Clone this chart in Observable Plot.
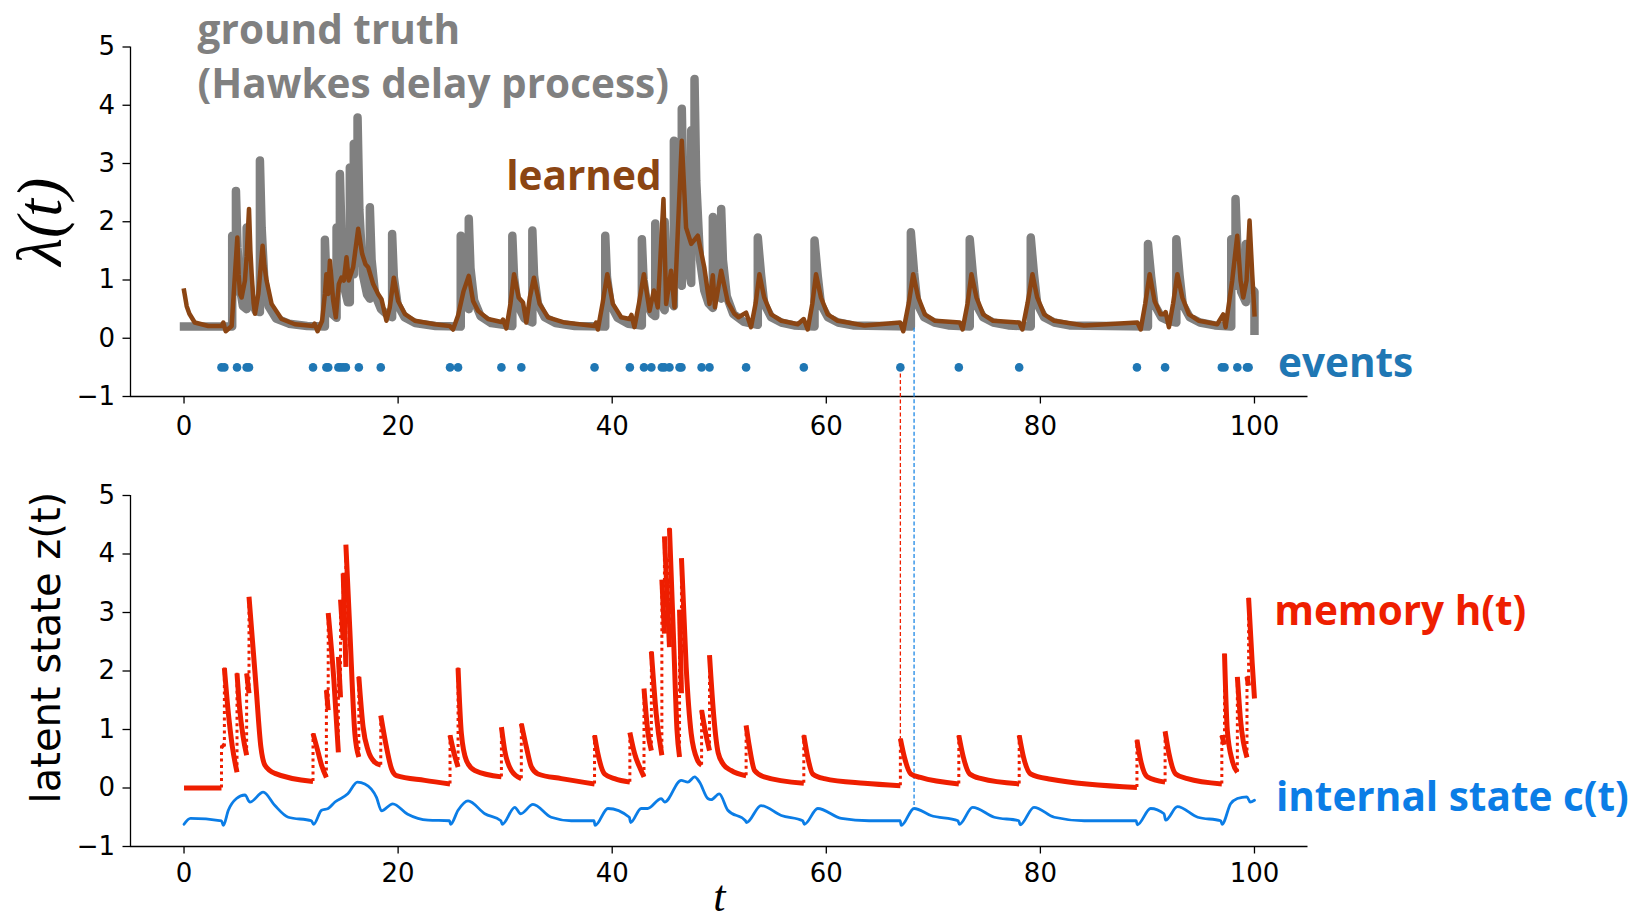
<!DOCTYPE html>
<html><head><meta charset="utf-8">
<script src="https://cdn.jsdelivr.net/npm/d3@7"></script>
<script src="https://cdn.jsdelivr.net/npm/@observablehq/plot@0.6"></script>
<style>
body{margin:0;background:#fff;}
#chart{width:1631px;height:922px;}
#chart svg{display:block;overflow:visible;}
</style></head><body><div id="chart"></div>
<script>
// ---------- data ----------
const xDomain = [-5, 105];
const yDomain = [-1, 5];
const xTicks = [0, 20, 40, 60, 80, 100];
const yTicks = [-1, 0, 1, 2, 3, 4, 5];

const events = [3.5, 3.77, 4.95, 5.85, 6.07, 12.05, 13.3, 13.47, 14.42, 14.62, 14.87, 15.12, 16.33, 18.38, 24.85, 25.6, 29.65, 31.51, 38.35, 41.65, 42.97, 43.66, 44.64, 44.88, 45.35, 46.29, 46.47, 48.35, 49.09, 52.51, 57.9, 66.92, 72.38, 78.02, 89.02, 91.65, 96.95, 97.2, 98.4, 99.3, 99.45];
const eventRowY = [-0.5];

const groundTruth = [[0,0.2],[4.5,0.2],[4.5,1.76],[4.62,1.1],[4.85,0.8],[4.85,2.53],[5.0,1.55],[5.2,0.9],[5.5,0.55],[5.85,0.5],[5.85,1.9],[6.0,1.15],[6.3,0.65],[6.7,0.47],[7.09,0.45],[7.09,3.05],[7.25,1.9],[7.5,1.0],[7.9,0.55],[8.6,0.34],[9.8,0.25],[11.5,0.21],[13.16,0.2],[13.16,1.69],[13.3,1.0],[13.63,0.45],[14.25,0.35],[14.25,1.9],[14.4,1.2],[14.56,0.9],[14.56,2.82],[14.75,1.5],[15.0,0.85],[15.3,0.62],[15.49,0.62],[15.49,2.93],[15.62,1.8],[15.86,1.1],[15.86,3.34],[16.0,2.1],[16.21,1.3],[16.21,3.79],[16.38,2.2],[16.7,1.1],[17.1,0.75],[17.36,0.68],[17.36,2.25],[17.52,1.35],[17.85,0.75],[18.4,0.5],[19.0,0.4],[19.44,0.36],[19.44,1.79],[19.6,1.05],[19.95,0.58],[20.6,0.36],[21.6,0.26],[23.5,0.21],[25.85,0.2],[25.85,1.76],[26.0,1.05],[26.3,0.62],[26.6,0.5],[26.6,2.05],[26.76,1.2],[27.1,0.65],[27.7,0.38],[28.7,0.26],[30.67,0.21],[30.67,1.76],[30.83,1.05],[31.15,0.58],[31.8,0.34],[32.54,0.27],[32.54,1.85],[32.7,1.08],[33.05,0.6],[33.7,0.36],[34.7,0.26],[36.5,0.21],[39.35,0.2],[39.35,1.76],[39.51,1.05],[39.85,0.58],[40.5,0.35],[41.5,0.25],[42.77,0.22],[42.77,1.7],[42.93,1.0],[43.25,0.58],[43.7,0.42],[44.02,0.38],[44.02,1.97],[44.18,1.15],[44.5,0.62],[44.9,0.48],[44.9,2.0],[45.06,1.2],[45.4,0.65],[45.76,0.55],[45.76,3.39],[45.92,2.0],[46.2,1.15],[46.5,0.9],[46.5,3.94],[46.66,2.4],[47.0,1.3],[47.38,0.95],[47.38,3.57],[47.5,2.5],[47.69,1.9],[47.69,4.45],[47.85,2.7],[48.2,1.35],[48.6,0.82],[49.0,0.6],[49.4,0.52],[49.4,2.08],[49.56,1.3],[49.85,0.82],[50.18,0.68],[50.18,2.22],[50.34,1.35],[50.7,0.72],[51.3,0.42],[52.3,0.28],[53.6,0.23],[53.6,1.73],[53.9,1.1],[54.2,0.59],[54.85,0.36],[55.8,0.27],[57,0.22],[58.9,0.2],[58.9,1.68],[59.2,1.07],[59.5,0.58],[60.15,0.36],[61.1,0.27],[62.5,0.22],[67.9,0.2],[67.9,1.82],[68.2,1.13],[68.5,0.6],[69.15,0.36],[70.1,0.27],[71.4,0.22],[73.4,0.2],[73.4,1.7],[73.7,1.08],[74.0,0.58],[74.65,0.36],[75.6,0.27],[77,0.22],[79.1,0.2],[79.1,1.73],[79.4,1.1],[79.7,0.59],[80.35,0.36],[81.3,0.27],[82.7,0.22],[90.05,0.2],[90.05,1.62],[90.35,1.05],[90.65,0.58],[91.3,0.36],[92.0,0.3],[92.7,0.27],[92.7,1.7],[93.0,1.08],[93.3,0.58],[93.95,0.36],[94.9,0.27],[96.3,0.22],[97.83,0.2],[97.83,1.7],[98.0,1.2],[98.23,0.9],[98.23,2.39],[98.42,1.45],[98.75,0.8],[99.2,0.62],[99.2,1.62],[99.4,1.1],[99.7,0.85],[100,0.8],[100,0.13]];

const learned = [[0,0.82],[0.25,0.55],[0.5,0.42],[1.0,0.27],[2.27,0.21],[3.5,0.21],[3.67,0.27],[3.89,0.12],[4.45,0.21],[4.76,1.1],[4.98,1.73],[5.1,1.1],[5.23,0.76],[5.38,0.7],[5.69,0.99],[5.85,1.4],[6.07,2.22],[6.2,1.5],[6.32,1.1],[6.5,0.6],[6.63,0.42],[6.94,0.76],[7.34,1.59],[7.5,1.25],[7.71,0.99],[8.18,0.59],[9.11,0.33],[10.36,0.24],[12.07,0.21],[12.2,0.25],[12.47,0.12],[12.9,0.3],[13.16,0.76],[13.3,1.1],[13.47,0.76],[13.63,1.33],[13.94,0.64],[14.18,0.36],[14.46,0.93],[14.71,1.04],[14.93,0.99],[15.18,1.39],[15.39,0.99],[15.8,1.22],[16.27,1.88],[16.64,1.45],[16.95,1.27],[17.2,1.22],[17.67,0.93],[18.13,0.76],[18.45,0.67],[18.91,0.3],[19.22,0.53],[19.6,1.04],[20.0,0.64],[20.62,0.42],[21.56,0.3],[23.42,0.24],[24.82,0.21],[25.13,0.15],[25.6,0.39],[26.1,0.8],[26.6,1.07],[27.0,0.64],[27.47,0.47],[28.4,0.33],[29.65,0.28],[29.8,0.32],[30.11,0.17],[30.5,0.6],[30.83,1.1],[31.26,0.7],[31.5,0.65],[31.67,0.61],[31.98,0.27],[32.3,0.7],[32.69,1.04],[33.22,0.59],[34.0,0.36],[35.55,0.27],[38.35,0.21],[38.5,0.27],[38.66,0.15],[39.1,0.6],[39.54,1.1],[40.06,0.59],[40.84,0.36],[41.62,0.33],[41.8,0.4],[42.08,0.19],[42.5,0.6],[42.96,1.1],[43.49,0.47],[43.89,0.82],[44.26,0.53],[44.79,2.39],[45.04,0.59],[45.5,1.16],[45.82,0.53],[46.5,3.39],[46.9,1.9],[47.38,1.62],[48.0,1.76],[48.6,1.22],[49.09,0.59],[49.4,1.08],[49.6,0.53],[50.18,1.16],[50.8,0.62],[51.42,0.42],[51.8,0.36],[52.51,0.44],[52.97,0.19],[53.4,0.6],[53.75,1.1],[54.2,0.7],[54.85,0.41],[55.8,0.3],[57.33,0.24],[57.89,0.33],[58.26,0.15],[58.7,0.6],[59.04,1.1],[59.5,0.7],[60.13,0.41],[61.06,0.3],[63.55,0.22],[66.91,0.27],[67.19,0.12],[67.7,0.6],[68.12,1.1],[68.59,0.7],[69.21,0.41],[70.15,0.3],[72.48,0.27],[72.73,0.15],[73.2,0.6],[73.56,1.1],[74.03,0.7],[74.65,0.41],[75.58,0.3],[78.02,0.27],[78.32,0.15],[78.8,0.6],[79.26,1.1],[79.7,0.7],[80.35,0.41],[81.28,0.3],[84.08,0.22],[89.06,0.27],[89.37,0.15],[89.8,0.6],[90.21,1.1],[90.67,0.64],[91.23,0.41],[91.55,0.41],[91.7,0.45],[92.01,0.19],[92.4,0.6],[92.8,1.1],[93.26,0.7],[93.88,0.41],[94.81,0.3],[96.52,0.24],[97.08,0.41],[97.3,0.19],[97.92,0.99],[98.39,1.76],[98.7,0.99],[98.95,0.7],[99.26,0.99],[99.54,2.02],[99.79,1.1],[100,0.41]];

const memorySegments = [
 [[0,0],[3.5,0]],
 [[3.5,0.74],[3.77,0.7]],
 [[3.77,2.05],[4.14,1.28],[4.51,0.71],[4.95,0.27]],
 [[4.95,1.96],[5.2,1.35],[5.5,0.9],[5.85,0.56]],
 [[5.85,1.96],[6.07,1.62]],
 [[6.07,3.27],[6.69,1.83],[7.18,0.7],[7.56,0.39],[8.49,0.25],[12.05,0.11]],
 [[12.05,0.93],[12.4,0.7],[12.85,0.39],[13.3,0.18]],
 [[13.3,1.67],[13.47,1.33]],
 [[13.47,2.99],[14.0,1.84],[14.42,0.61]],
 [[14.42,2.24],[14.62,1.55]],
 [[14.62,3.22],[14.87,2.53]],
 [[14.87,3.67],[15.12,2.07]],
 [[15.12,4.16],[15.49,2.7],[15.96,0.93],[16.33,0.53]],
 [[16.33,1.9],[16.73,1.04],[17.2,0.64],[17.82,0.44],[18.38,0.39]],
 [[18.38,1.24],[18.91,0.7],[19.38,0.33],[19.85,0.21],[22.49,0.13],[24.85,0.07]],
 [[24.85,0.9],[25.23,0.59],[25.6,0.36]],
 [[25.6,2.05],[25.91,0.93],[26.38,0.47],[27.16,0.3],[29.65,0.19]],
 [[29.65,1.04],[29.96,0.64],[30.58,0.3],[31.51,0.16]],
 [[31.51,1.1],[31.98,0.7],[32.45,0.36],[33.07,0.24],[35.25,0.16],[38.35,0.07]],
 [[38.35,0.9],[38.66,0.59],[39.29,0.24],[40.22,0.16],[41.65,0.1]],
 [[41.65,0.95],[42.09,0.59],[42.7,0.3],[42.97,0.19]],
 [[42.97,1.7],[43.33,0.96],[43.66,0.64]],
 [[43.66,2.33],[44.11,1.27],[44.64,0.56]],
 [[44.64,3.56],[44.88,2.64]],
 [[44.88,4.3],[45.35,2.41]],
 [[45.35,4.44],[45.76,2.41],[46.05,1.0],[46.29,0.53]],
 [[46.29,3.05],[46.47,1.62]],
 [[46.47,3.93],[46.91,2.07],[47.38,0.93],[47.98,0.47],[48.35,0.39]],
 [[48.35,1.33],[48.77,0.9],[49.09,0.64]],
 [[49.09,2.27],[49.5,1.2],[49.9,0.6],[50.4,0.4],[51.1,0.3],[52.51,0.21]],
 [[52.51,1.07],[52.82,0.7],[53.3,0.3],[54.2,0.19],[57.9,0.08]],
 [[57.9,0.9],[58.26,0.53],[58.73,0.24],[59.82,0.16],[63.55,0.08],[66.92,0.04]],
 [[66.92,0.84],[67.29,0.53],[67.9,0.24],[68.8,0.18],[72.38,0.07]],
 [[72.38,0.9],[72.8,0.53],[73.4,0.24],[74.5,0.16],[78.02,0.07]],
 [[78.02,0.9],[78.42,0.53],[79.1,0.24],[80.97,0.15],[89.02,0.01]],
 [[89.02,0.82],[89.37,0.47],[89.99,0.19],[91.65,0.1]],
 [[91.65,0.97],[92.01,0.59],[92.64,0.24],[93.73,0.16],[96.95,0.07]],
 [[96.95,0.9],[97.2,0.74]],
 [[97.2,2.3],[97.46,0.99],[97.92,0.47],[98.4,0.27]],
 [[98.4,1.9],[98.7,1.16],[99.3,0.52]],
 [[99.3,1.9],[99.45,1.75]],
 [[99.45,3.25],[99.79,2.13],[100,1.53]]
];

const internalState = [[0,-0.62],[0.6,-0.52],[3.5,-0.56],[3.67,-0.64],[4.14,-0.38],[4.9,-0.18],[5.69,-0.12],[6.16,-0.24],[7.4,-0.07],[8.49,-0.3],[9.74,-0.5],[11.9,-0.56],[12.1,-0.62],[12.85,-0.38],[13.47,-0.35],[14.1,-0.24],[15.3,-0.1],[16.2,0.1],[16.89,0.07],[17.98,-0.16],[18.45,-0.39],[19.5,-0.27],[20.9,-0.45],[22.8,-0.55],[24.8,-0.56],[24.9,-0.62],[25.6,-0.38],[26.53,-0.22],[28.1,-0.44],[29.6,-0.56],[29.72,-0.62],[30.9,-0.33],[31.45,-0.44],[32.6,-0.28],[34.3,-0.5],[36.17,-0.56],[38.3,-0.56],[38.4,-0.64],[39.6,-0.35],[41.6,-0.5],[41.72,-0.59],[42.7,-0.35],[43.3,-0.35],[44.58,-0.18],[44.9,-0.24],[46.44,0.13],[47.07,0.1],[47.7,0.19],[48.16,0.1],[48.93,-0.18],[49.25,-0.2],[50.0,-0.1],[50.8,-0.38],[52.45,-0.56],[52.55,-0.59],[53.9,-0.3],[55.8,-0.47],[57.8,-0.56],[57.95,-0.62],[59.2,-0.35],[61.4,-0.52],[64,-0.56],[66.9,-0.56],[67.0,-0.64],[68.2,-0.35],[69.77,-0.47],[72.3,-0.56],[72.42,-0.62],[73.67,-0.33],[75.7,-0.5],[78.0,-0.56],[78.1,-0.63],[79.4,-0.33],[81.3,-0.5],[84.1,-0.56],[88.95,-0.56],[89.05,-0.63],[90.3,-0.35],[91.55,-0.44],[91.7,-0.55],[92.8,-0.32],[94.7,-0.5],[96.85,-0.56],[96.97,-0.62],[97.77,-0.27],[98.4,-0.18],[99.3,-0.15],[99.6,-0.24],[100,-0.21]];

// the two highlighted instants (event time, query time) and the values where their guides end
const guideTimes = [66.92, 68.2];
const guideTopEnds = [-0.5, 0.17];
const guideBottomEnds = [0.84, -0.3];

// ---------- styling / layout ----------
const COL = {gray: "#808080", brown: "#8B4513", events: "#1f77b4", red: "#ee1e00", blue: "#0b7de6", blueGuide: "#1e88e5"};
const W = 1631;
const LEFT = 130, RIGHT = 323.5;
const P1 = {height: 450, top: 46.5, bottom: 54, pad: 13};
const P2 = {height: 472, top: 45, bottom: 76, pad: 10};
const unitOf = p => (p.height - p.top - p.bottom) / (yDomain[1] - yDomain[0]);
const below = p => yDomain[0] - p.bottom / unitOf(p);
const above = p => yDomain[1] + p.top / unitOf(p);
const ANN = {fontFamily: "Open Sans", fontWeight: 700, fontSize: 40.5, textAnchor: "start", lineAnchor: "middle"};
const fmt = d => (d < 0 ? "\u2212" : "") + Math.abs(d);

function axes(p) {
  return [
    Plot.ruleX([xDomain[0]], {strokeWidth: 1.3}),
    Plot.ruleY([yDomain[0]], {strokeWidth: 1.3}),
    Plot.axisX(xTicks, {anchor: "bottom", tickSize: 7.5, tickPadding: p.pad, strokeWidth: 1.3, fontSize: 26, tickFormat: fmt, label: null}),
    Plot.axisY(yTicks, {anchor: "left", tickSize: 7.5, tickPadding: 8, strokeWidth: 1.3, fontSize: 26, tickFormat: fmt, label: null})
  ];
}
const common = p => ({
  width: W, height: p.height, marginLeft: LEFT, marginRight: RIGHT, marginTop: p.top, marginBottom: p.bottom,
  x: {domain: xDomain}, y: {domain: yDomain},
  style: {fontFamily: "DejaVu Sans", fontSize: "26px", color: "black", background: "white", overflow: "visible"}
});

const guides = guideTimes.map((t, i) => ({t, top: guideTopEnds[i], bottom: guideBottomEnds[i], color: i === 0 ? COL.red : COL.blueGuide}));

// ---------- top panel ----------
const plotTop = Plot.plot({
  ...common(P1),
  marks: [
    ...axes(P1),
    Plot.line(groundTruth, {x: d => d[0], y: d => d[1], stroke: COL.gray, strokeWidth: 8.5, strokeLinejoin: "round", strokeLinecap: "square"}),
    Plot.line(learned, {x: d => d[0], y: d => d[1], stroke: COL.brown, strokeWidth: 4.5, strokeLinejoin: "round", strokeLinecap: "square"}),
    Plot.ruleX(guides, {x: "t", y1: "top", y2: () => below(P1), stroke: "color", strokeWidth: 1.3, strokeDasharray: "4,2.5"}),
    Plot.dot(events, {x: d => d, y: eventRowY[0], r: 4.3, fill: COL.events, stroke: null}),
    Plot.text(["λ(t)"], {x: xDomain[0], y: (yDomain[0] + yDomain[1]) / 2, dx: -90, rotate: -90, fontSize: 64, fontFamily: "Liberation Serif", fontStyle: "italic", textAnchor: "middle", lineAnchor: "middle"}),
    Plot.text(["ground truth"], {...ANN, x: 1.27, y: 5.27, fill: COL.gray}),
    Plot.text(["(Hawkes delay process)"], {...ANN, x: 1.27, y: 4.35, fill: COL.gray}),
    Plot.text(["learned"], {...ANN, x: 30.1, y: 2.76, fill: COL.brown}),
    Plot.text(["events"], {...ANN, x: 102.2, y: -0.45, fill: COL.events})
  ]
});

// ---------- bottom panel ----------
const memoryRows = memorySegments.flatMap((seg, i) => seg.map(([t, h]) => ({t, h, seg: i})));
const memoryJumps = memorySegments.slice(1).map((seg, i) => ({t: seg[0][0], from: memorySegments[i][memorySegments[i].length - 1][1], to: seg[0][1]}));

const plotBottom = Plot.plot({
  ...common(P2),
  marks: [
    ...axes(P2),
    Plot.ruleX(guides, {x: "t", y1: () => above(P2), y2: "bottom", stroke: "color", strokeWidth: 1.3, strokeDasharray: "4,2.5"}),
    Plot.ruleX(memoryJumps, {x: "t", y1: "from", y2: "to", stroke: COL.red, strokeWidth: 3, strokeDasharray: "3,3.5"}),
    Plot.line(memoryRows, {x: "t", y: "h", z: "seg", stroke: COL.red, strokeWidth: 5, curve: "monotone-x", strokeLinecap: "butt", strokeLinejoin: "round"}),
    Plot.line(internalState, {x: d => d[0], y: d => d[1], stroke: COL.blue, strokeWidth: 2.8, curve: "monotone-x", strokeLinejoin: "round"}),
    Plot.text(["latent state z(t)"], {x: xDomain[0], y: 2.4, dx: -83, rotate: -90, fontSize: 40, fontFamily: "DejaVu Sans", textAnchor: "middle", lineAnchor: "middle"}),
    Plot.text(["t"], {x: 50, y: yDomain[0], dy: 50, fontSize: 44, fontFamily: "Liberation Serif", fontStyle: "italic", textAnchor: "middle", lineAnchor: "middle"}),
    Plot.text(["memory h(t)"], {...ANN, x: 101.84, y: 3.0, fill: COL.red}),
    Plot.text(["internal state c(t)"], {...ANN, x: 102.0, y: -0.18, fill: COL.blue})
  ]
});

const root = document.getElementById("chart");
root.appendChild(plotTop);
root.appendChild(plotBottom);
</script></body></html>
